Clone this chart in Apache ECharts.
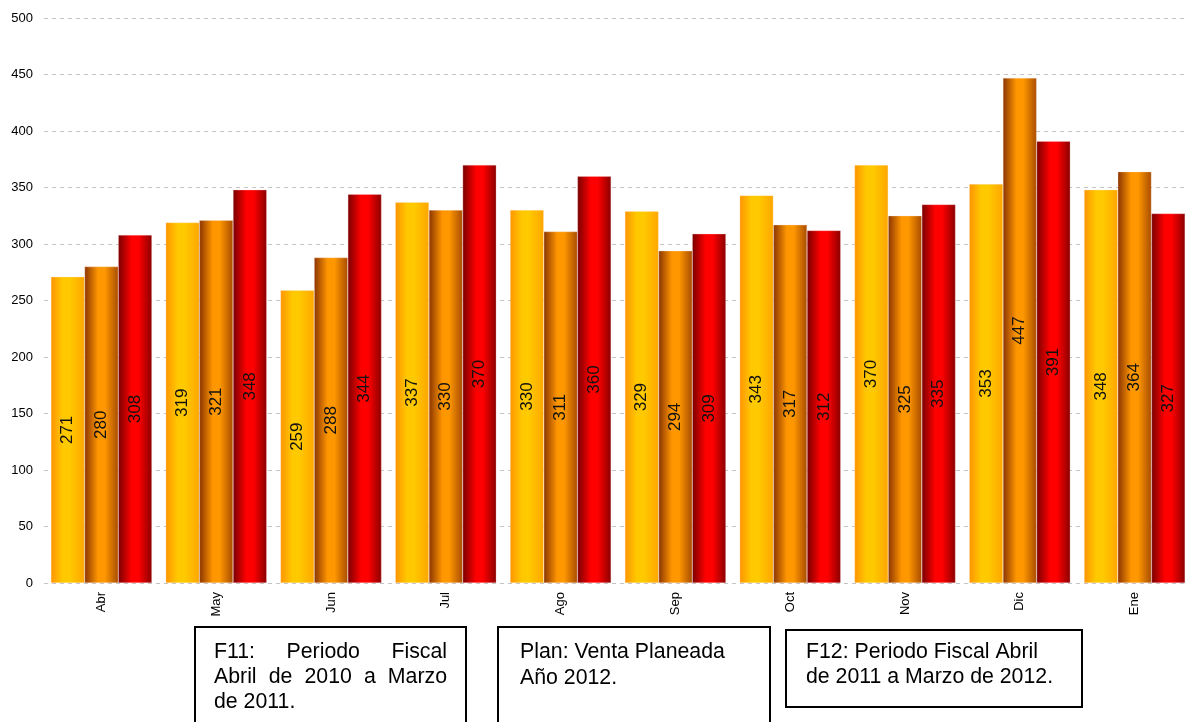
<!DOCTYPE html>
<html>
<head>
<meta charset="utf-8">
<script src="https://cdn.jsdelivr.net/npm/echarts@6/dist/echarts.min.js"></script>
<style>
  html, body { margin: 0; padding: 0; background: #fff; overflow: hidden; }
  #chart { width: 1200px; height: 722px; }
</style>
</head>
<body>
<div id="chart"></div>
<script>
// Monthly sales: fiscal 2011, plan 2012, fiscal 2012
const categories = ['Abr', 'May', 'Jun', 'Jul', 'Ago', 'Sep', 'Oct', 'Nov', 'Dic', 'Ene'];
const f11Values  = [271, 319, 259, 337, 330, 329, 343, 370, 353, 348];
const planValues = [280, 321, 288, 330, 311, 294, 317, 325, 447, 364];
const f12Values  = [308, 348, 344, 370, 360, 309, 312, 335, 391, 327];
const yTicks = { min: 0, max: 500, interval: 50 };

const font = 'Liberation Sans, Arial, sans-serif';
const noteFont = '21.3px ' + font;

function cylinder(stops) {
  return new echarts.graphic.LinearGradient(0, 0, 1, 0,
    stops.map(([offset, color]) => ({ offset, color })));
}

const labelStyle = {
  show: true,
  position: 'inside',
  rotate: 90,
  fontFamily: font,
  fontSize: 17,
  color: '#111'
};

// Text helpers for the note boxes under the chart
const measureCtx = document.createElement('canvas').getContext('2d');
function textAt(text, x, y) {
  return { type: 'text', x, y, style: { text, font: noteFont, fill: '#000', verticalAlign: 'middle' } };
}
function justifiedLine(words, x0, x1, y) {
  measureCtx.font = noteFont;
  const widths = words.map(w => measureCtx.measureText(w).width);
  const total = widths.reduce((a, b) => a + b, 0);
  const gap = (x1 - x0 - total) / (words.length - 1);
  let x = x0;
  return words.map((w, i) => {
    const el = textAt(w, x, y);
    x += widths[i] + gap;
    return el;
  });
}
function box(x, y, w, h) {
  return { type: 'rect', shape: { x, y, width: w, height: h },
           style: { fill: '#fff', stroke: '#000', lineWidth: 2 } };
}

const chart = echarts.init(document.getElementById('chart'));

chart.setOption({
  animation: false,
  grid: { left: 44, top: 18, width: 1148, bottom: 139 },
  xAxis: {
    type: 'category',
    data: categories,
    axisLine: { show: false },
    axisTick: { show: false },
    axisLabel: { rotate: 90, fontSize: 13, fontFamily: font, color: '#000', margin: 9 }
  },
  yAxis: {
    type: 'value',
    min: yTicks.min,
    max: yTicks.max,
    interval: yTicks.interval,
    axisLine: { show: false },
    axisTick: { show: false },
    axisLabel: { fontSize: 13, fontFamily: font, color: '#000', margin: 11 },
    splitLine: { lineStyle: { type: [4, 4], color: '#c4c4c4', width: 1 } }
  },
  series: [
    {
      name: 'F11', type: 'bar', data: f11Values, barGap: '0%', barCategoryGap: '12%',
      itemStyle: {
        color: cylinder([[0, '#FF9400'], [0.35, '#FFC800'], [0.55, '#FFCA00'], [1, '#FFA600']]),
        borderColor: 'rgba(255,230,200,0.6)', borderWidth: 0.5
      },
      label: labelStyle
    },
    {
      name: 'Plan', type: 'bar', data: planValues,
      itemStyle: {
        color: cylinder([[0, '#8A3400'], [0.4, '#FF9600'], [0.6, '#FF9800'], [1, '#A84C00']]),
        borderColor: 'rgba(255,220,200,0.6)', borderWidth: 0.5
      },
      label: labelStyle
    },
    {
      name: 'F12', type: 'bar', data: f12Values,
      itemStyle: {
        color: cylinder([[0, '#780000'], [0.4, '#FF0000'], [0.6, '#FF0000'], [1, '#8A0000']]),
        borderColor: 'rgba(255,200,200,0.6)', borderWidth: 0.5
      },
      label: labelStyle
    }
  ],
  graphic: [
    box(195, 627, 271, 100),
    ...justifiedLine(['F11:', 'Periodo', 'Fiscal'], 214, 447, 652),
    ...justifiedLine(['Abril', 'de', '2010', 'a', 'Marzo'], 214, 447, 677),
    textAt('de 2011.', 214, 702),

    box(498, 627, 272, 100),
    textAt('Plan: Venta Planeada', 520, 652),
    textAt('Año 2012.', 520, 678),

    box(786, 630, 296, 77),
    textAt('F12: Periodo Fiscal Abril', 806, 652),
    textAt('de 2011 a Marzo de 2012.', 806, 677)
  ]
});
</script>
</body>
</html>
